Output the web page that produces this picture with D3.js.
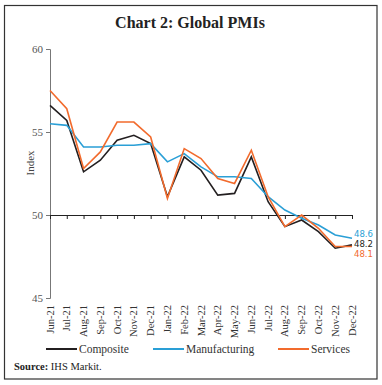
<!DOCTYPE html>
<html><head><meta charset="utf-8">
<script src="https://cdn.jsdelivr.net/npm/d3@7"></script>
<style>body{margin:0;background:#fff}svg{display:block}</style>
</head><body>
<script>
const months = ["Jun-21","Jul-21","Aug-21","Sep-21","Oct-21","Nov-21","Dec-21","Jan-22","Feb-22","Mar-22","Apr-22","May-22","Jun-22","Jul-22","Aug-22","Sep-22","Oct-22","Nov-22","Dec-22"];
const composite = [56.6,55.7,52.6,53.3,54.5,54.8,54.3,51.1,53.5,52.7,51.2,51.3,53.5,50.8,49.3,49.7,49.0,48.0,48.2];
const manufacturing = [55.5,55.4,54.1,54.1,54.2,54.2,54.3,53.2,53.7,52.9,52.3,52.3,52.2,51.1,50.3,49.8,49.4,48.8,48.6];
const services = [57.5,56.4,52.8,53.8,55.6,55.6,54.7,51.0,54.0,53.4,52.2,51.9,53.9,51.1,49.3,50.0,49.2,48.1,48.1];
const yTicks = [45,50,55,60];
const seriesNames = ["Composite","Manufacturing","Services"];
const colors = ["#231f20","#2a9fd6","#f26b2d"];

const W=382,H=385;
const svg=d3.select("body").append("svg").attr("width",W).attr("height",H);
const serif="'Liberation Serif','DejaVu Serif',serif";
svg.append("rect").attr("x",4.5).attr("y",5.5).attr("width",372.5).attr("height",373.5)
  .attr("fill","none").attr("stroke","#333").attr("stroke-width",1.2);
svg.append("text").attr("x",190).attr("y",28).attr("text-anchor","middle")
  .attr("font-family",serif).attr("font-weight","bold").attr("font-size",16).attr("fill","#222")
  .text("Chart 2: Global PMIs");

const x=d3.scalePoint().domain(months).range([50,352]).padding(0);
const y=d3.scaleLinear().domain([45,60]).range([298,49]);

// y axis
const ya=svg.append("g").attr("transform","translate(50,0)")
  .call(d3.axisLeft(y).tickValues(yTicks).tickSize(4).tickPadding(3));
ya.select(".domain").attr("stroke","#777");
ya.selectAll(".tick line").attr("stroke","#777");
ya.selectAll("text").attr("font-family",serif).attr("font-size",11).attr("fill","#555");

svg.append("text").attr("transform","translate(34,163) rotate(-90)").attr("text-anchor","middle")
  .attr("font-family",serif).attr("font-size",11).attr("fill","#444").text("Index");

// x axis at 50
const xa=svg.append("g").attr("transform",`translate(0,${y(50)})`)
  .call(d3.axisBottom(x).tickSize(4).tickFormat(""));
xa.select(".domain").attr("stroke","#222");
xa.selectAll(".tick line").attr("stroke","#222");

// x labels at bottom
svg.append("g").selectAll("text").data(months).join("text")
  .attr("transform",d=>`translate(${x(d)+3.5},305) rotate(-90)`)
  .attr("text-anchor","end").attr("font-family",serif).attr("font-size",10.5).attr("fill","#333")
  .text(d=>d);

const data=[composite,manufacturing,services];
const line=d3.line().x((d,i)=>x(months[i])).y(d=>y(d));
[0,1,2].forEach(k=>{
  svg.append("path").datum(data[k]).attr("d",line).attr("fill","none")
    .attr("stroke",colors[k]).attr("stroke-width",1.6).attr("stroke-linejoin","miter");
});

// end labels
const endLabelY=[246.5,236.5,257];
[1,0,2].forEach(k=>{
  const v=data[k][data[k].length-1];
  svg.append("text").attr("x",354).attr("y",endLabelY[k]).attr("font-family","'DejaVu Sans Condensed','Liberation Sans',sans-serif")
    .attr("font-size",9.5).attr("fill",colors[k]).text(v.toFixed(1));
});

// legend
const legX=[46,153,278];
seriesNames.forEach((n,k)=>{
  svg.append("line").attr("x1",legX[k]).attr("x2",legX[k]+31).attr("y1",349).attr("y2",349)
    .attr("stroke",colors[k]).attr("stroke-width",2);
  svg.append("text").attr("x",legX[k]+33).attr("y",353).attr("font-family",serif)
    .attr("font-size",11.5).attr("fill","#333").text(n);
});

const src=svg.append("text").attr("x",14).attr("y",370).attr("font-family",serif).attr("font-size",10.5).attr("fill","#222");
src.append("tspan").attr("font-weight","bold").text("Source: ");
src.append("tspan").text("IHS Markit.");
</script>
</body></html>
